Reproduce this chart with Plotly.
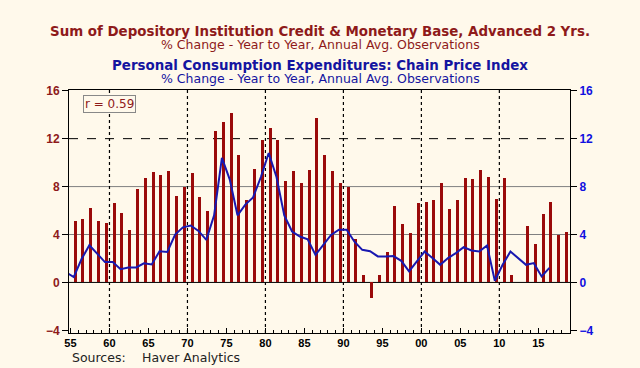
import plotly.graph_objects as go

# ---------------- data ----------------
years = list(range(1955, 2019))
credit_mb_adv2 = [
    5.1, 5.3, 6.2, 5.1, 5.0, 6.6, 5.8, 4.4, 7.8, 8.7,
    9.2, 9.0, 9.3, 7.2, 8.0, 9.1, 7.1, 6.0, 12.6, 13.4,
    14.1, 10.6, 6.9, 9.5, 11.9, 12.9, 11.9, 8.5, 9.3, 8.3,
    9.4, 13.7, 10.6, 9.3, 8.3, 8.0, 3.6, 0.6, -1.3, 0.6,
    2.5, 6.4, 4.9, 4.1, 6.6, 6.7, 6.9, 8.3, 6.1, 6.9,
    8.7, 8.6, 9.4, 8.8, 7.0, 8.7, 0.6, None, 4.7, 3.2,
    5.7, 6.7, 4.0, 4.2,
]
pce_years = list(range(1954, 2017))
pce_infl = [
    0.85, 0.45, 1.95, 3.1, 2.4, 1.7, 1.7, 1.1, 1.25, 1.25,
    1.6, 1.5, 2.6, 2.55, 4.0, 4.6, 4.75, 4.3, 3.55, 5.6,
    10.4, 8.6, 5.6, 6.5, 7.1, 8.8, 10.8, 8.8, 5.6, 4.25,
    3.83, 3.6, 2.3, 3.14, 3.97, 4.4, 4.4, 3.4, 2.72, 2.6,
    2.17, 2.17, 2.2, 1.8, 0.92, 1.75, 2.58, 2.03, 1.47, 2.03,
    2.45, 2.95, 2.67, 2.58, 3.08, 0.14, 1.47, 2.58, 2.03, 1.47,
    1.61, 0.5, 1.22,
]
r_value = 0.59
xtick_years = list(range(1955, 2020, 5))
xtick_text = [str(y)[-2:] for y in xtick_years]
ytick_vals = [-4, 0, 4, 8, 12, 16]

# ---------------- styling ----------------
BG = "#FFF9EB"
RED = "#9A0A0A"
TRED = "#8E1A1A"
BLUE = "#1818B0"
TBLUE = "#1414A0"
FONT = "Liberation Sans, Arial, sans-serif"
WFONT = "DejaVu Sans, Verdana, sans-serif"

bar_x = [y + 0.6 for y in years]
line_x = [y + 0.42 for y in pce_years]

fig = go.Figure()
fig.add_trace(go.Bar(x=bar_x, y=credit_mb_adv2, width=0.38,
                     marker=dict(color=RED, line=dict(width=0)),
                     showlegend=False))
fig.add_trace(go.Scatter(x=line_x, y=pce_infl, mode="lines", yaxis="y2",
                         line=dict(color=BLUE, width=2), showlegend=False))

yr = [-4.22, 16.06]
fig.update_layout(
    width=640, height=368,
    paper_bgcolor=BG, plot_bgcolor=BG,
    margin=dict(l=69, r=70, t=90, b=35),
    bargap=0,
    xaxis=dict(range=[1954.81, 2019.06], tickvals=xtick_years, ticktext=xtick_text,
               ticks="inside", ticklen=5, tickcolor="black", showgrid=False,
               zeroline=False, showline=True, linecolor="black", linewidth=1,
               mirror=True,
               minor=dict(dtick=1, tick0=1955, ticks="inside", ticklen=3,
                          tickcolor="black", showgrid=False),
               tickfont=dict(family=FONT, size=11, color="black", weight="bold")),
    yaxis=dict(range=yr, tickvals=ytick_vals, ticks="outside", ticklen=6,
               tickcolor="black", showgrid=False, zeroline=False,
               showline=True, linecolor="black", linewidth=1,
               tickfont=dict(family=FONT, size=12, color=TRED, weight="bold")),
    yaxis2=dict(range=yr, tickvals=ytick_vals, ticks="outside", ticklen=6,
                tickcolor="black", overlaying="y", side="right",
                showgrid=False, zeroline=False, showline=True,
                linecolor="black", linewidth=1,
                tickfont=dict(family=FONT, size=12, color="#1010E0", weight="bold")),
)

# horizontal reference lines
for v, c, d in [(12, "black", "dash"), (8, "#808080", "solid"),
                (4, "#808080", "solid"), (0, "black", "solid")]:
    fig.add_hline(y=v, line=dict(color=c, width=1, dash=d), layer="below")
# decade lines
for dx in range(1960, 2020, 10):
    fig.add_vline(x=dx, line=dict(color="black", width=1.2, dash="dot"), layer="below")

ann = [
    ("Sum of Depository Institution Credit & Monetary Base, Advanced 2 Yrs.", 31.5, 13.4, TRED, "bold"),
    ("% Change - Year to Year, Annual Avg. Observations", 44.5, 12.5, TRED, "normal"),
    ("Personal Consumption Expenditures: Chain Price Index", 65.5, 13.4, TBLUE, "bold"),
    ("% Change - Year to Year, Annual Avg. Observations", 78.5, 12.5, TBLUE, "normal"),
]
for txt, ypx, sz, col, w in ann:
    fig.add_annotation(text=txt, xref="paper", yref="paper", x=(320 - 69) / 501,
                       y=1 + (90 - ypx) / 243, xanchor="center", yanchor="middle",
                       showarrow=False,
                       font=dict(family=WFONT, size=sz, color=col, weight=w))

fig.add_annotation(text="r = %.2f" % r_value, xref="paper", yref="paper",
                   x=(83 - 69) / 501, y=1 - (95 - 90) / 243, xanchor="left", yanchor="top",
                   showarrow=False, bgcolor=BG, bordercolor="#888888", borderwidth=1,
                   borderpad=1, font=dict(family=WFONT, size=12, color=TRED))

fig.add_annotation(text="Sources:", xref="paper", yref="paper",
                   x=(70 - 69) / 501, y=-(357 - 333) / 243, xanchor="left", yanchor="middle",
                   showarrow=False, font=dict(family=WFONT, size=12.5, color="#222222"))
fig.add_annotation(text="Haver Analytics", xref="paper", yref="paper",
                   x=(140 - 69) / 501, y=-(357 - 333) / 243, xanchor="left", yanchor="middle",
                   showarrow=False, font=dict(family=WFONT, size=12.5, color="#222222"))

fig.write_html("out.html", config={"displayModeBar": False},
               post_script="document.body.style.margin='0';document.body.style.padding='0';"
                           "document.body.style.background='" + BG + "';")
